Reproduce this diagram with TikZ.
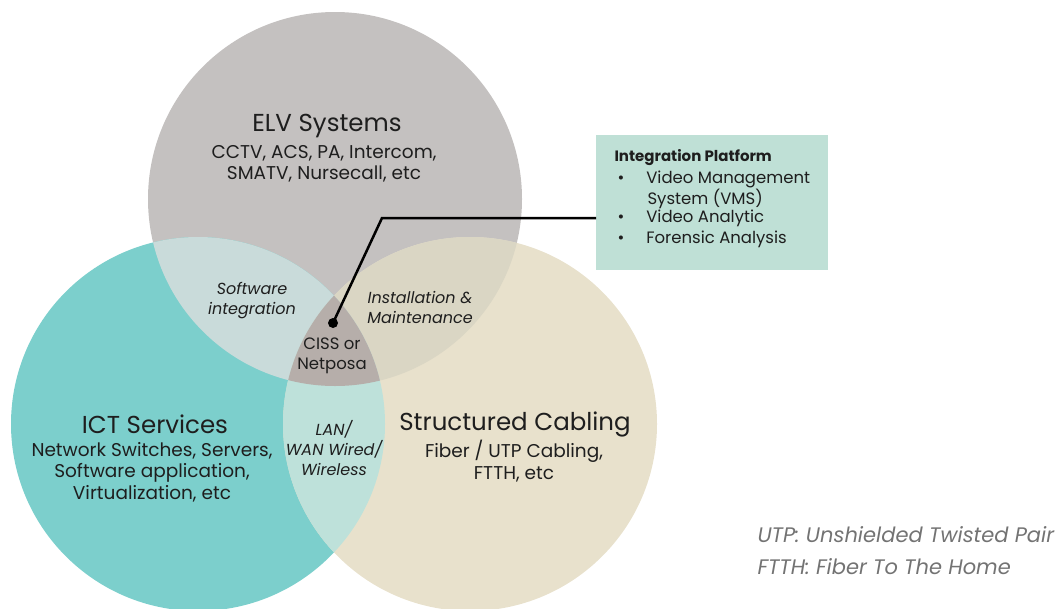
\documentclass[tikz,border=0pt]{standalone}
\usepackage{fontspec}
\setmainfont{Poppins}
\usetikzlibrary{positioning}
\definecolor{elvGray}{RGB}{196,193,192}
\definecolor{ictTeal}{RGB}{124,207,204}
\definecolor{cabBeige}{RGB}{232,225,204}
\definecolor{mixTL}{RGB}{201,219,218}
\definecolor{mixTR}{RGB}{218,214,196}
\definecolor{mixLR}{RGB}{190,225,218}
\definecolor{mixAll}{RGB}{182,174,170}
\definecolor{boxGreen}{RGB}{191,224,214}
\definecolor{noteGray}{RGB}{115,115,115}
\definecolor{inkGray}{RGB}{30,30,30}

\begin{document}
\begin{tikzpicture}[x=1pt,y=-1pt,
    title/.style={font=\fontsize{24.5}{30}\selectfont, text=inkGray},
    sub/.style={font=\fontsize{18.5}{21.5}\selectfont, align=center, text=inkGray},
    lens/.style={font=\fontsize{16}{20}\selectfont\itshape, align=center, text=inkGray},
    core/.style={font=\fontsize{16.5}{20}\selectfont, align=center, text=inkGray},
    item/.style={font=\fontsize{16.5}{19}\selectfont, anchor=west, text=inkGray},
    note/.style={font=\fontsize{21}{24}\selectfont\itshape, anchor=west, text=noteGray}]
    \useasboundingbox (0,0) rectangle (1064,608);

    % Circles
    \fill[elvGray] (335,199) circle [radius=187pt];
    \fill[ictTeal] (198,424) circle [radius=187pt];
    \fill[cabBeige] (470,424) circle [radius=187pt];

    % Overlaps
    \begin{scope}
        \clip (335,199) circle [radius=187pt];
        \fill[mixTL] (198,424) circle [radius=187pt];
        \fill[mixTR] (470,424) circle [radius=187pt];
    \end{scope}
    \begin{scope}
        \clip (198,424) circle [radius=187pt];
        \fill[mixLR] (470,424) circle [radius=187pt];
    \end{scope}
    \begin{scope}
        \clip (335,199) circle [radius=187pt];
        \clip (198,424) circle [radius=187pt];
        \fill[mixAll] (470,424) circle [radius=187pt];
    \end{scope}

    % Circle labels
    \node[title] (elv) at (327,126) {ELV Systems};
    \node[sub] (elvsub) at (324,164) {CCTV, ACS, PA, Intercom,\\SMATV, Nursecall, etc};
    \node[title] (ict) at (155,424) {ICT Services};
    \node[sub] (ictsub) at (152,472) {Network Switches, Servers,\\Software application,\\Virtualization, etc};
    \node[title] (cab) at (515,424) {Structured Cabling};
    \node[sub] (cabsub) at (514,461) {Fiber / UTP Cabling,\\FTTH, etc};

    % Overlap labels
    \node[lens] (swint) at (252,301) {Software\\integration};
    \node[lens] (inst) at (420,307) {Installation \&\\Maintenance};
    \node[lens] (lan) at (334,448) {LAN/\\WAN Wired/\\Wireless};
    \node[core] (ciss) at (332,356) {CISS or\\Netposa};

    % Integration platform box
    \node[fill=boxGreen, minimum width=232pt, minimum height=135pt, anchor=north west] (box) at (596,135) {};
    \node[font=\fontsize{15}{17}\selectfont\bfseries, anchor=west, text=inkGray] (plat) at (611,158) {Integration Platform};
    \node[item] (b1) at (614,179) {\textbullet\hspace{22pt}Video Management};
    \node[item] (b1b) at (644,199) {System (VMS)};
    \node[item] (b2) at (614,218) {\textbullet\hspace{22pt}Video Analytic};
    \node[item] (b3) at (614,239) {\textbullet\hspace{22pt}Forensic Analysis};

    % Connector
    \node[circle, fill=black, inner sep=0pt, minimum size=10pt] (dot) at (333,323) {};
    \coordinate (knee) at (382,218);
    \draw[line width=2.5pt] (dot.center) -- (knee) -- (knee -| box.west);

    % Notes
    \node[note] (n1) at (754,535) {UTP: Unshielded Twisted Pair};
    \node[note] (n2) at (754,567) {FTTH: Fiber To The Home};
\end{tikzpicture}
\end{document}
